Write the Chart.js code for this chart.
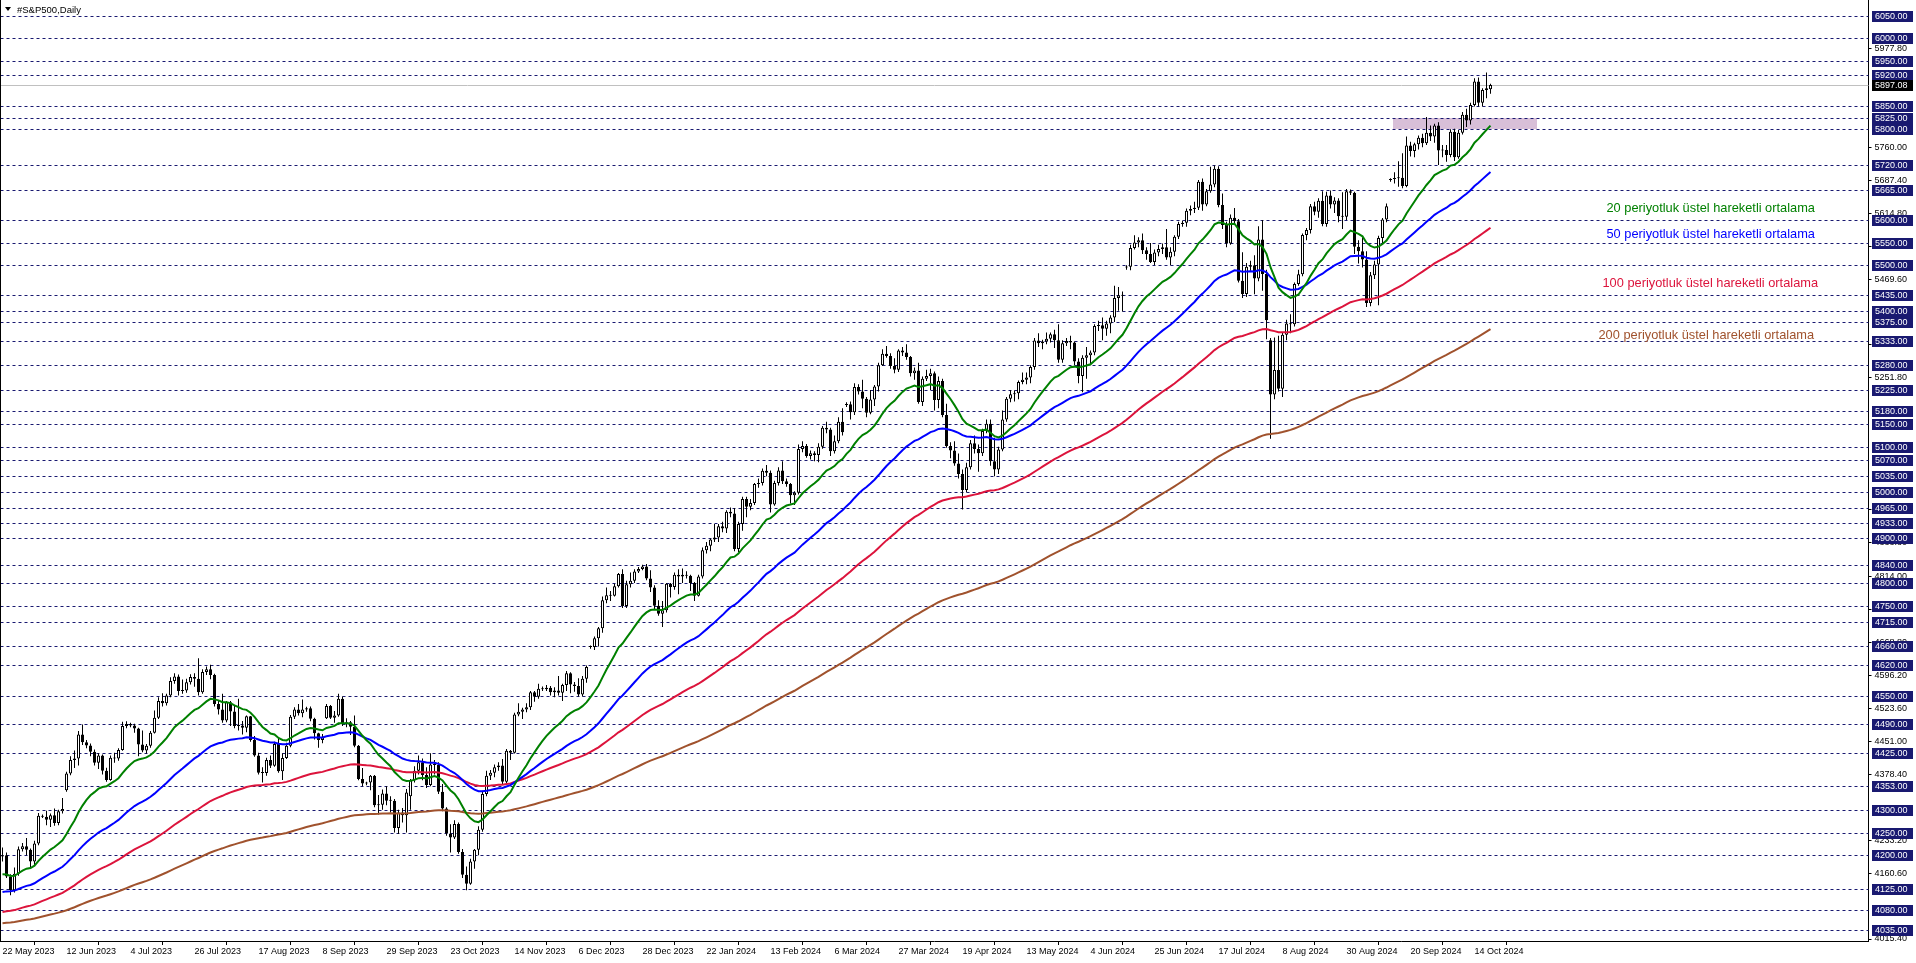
<!DOCTYPE html>
<html lang="tr">
<head>
    <meta charset="UTF-8">
    <title>#S&amp;P500,Daily</title>
    <style>
        html, body {
            margin: 0;
            padding: 0;
            background: #ffffff;
            overflow: hidden;
        }
        #chart {
            display: block;
        }
    </style>
</head>
<body>
    <canvas id="chart" width="1916" height="963"></canvas>

    <script src="https://cdn.jsdelivr.net/npm/chart.js"></script>
    <script>
        // daily bars, one line per 16 bars (one time-axis label each)
        const opens = [
            4197,4200,4153,4123,4159,4213,4220,4212,4186,4226,4287,4285,4278,4288,4271,4297,
            4343,4380,4410,4413,4466,4449,4442,4428,4404,4420,4386,4366,4415,4413,4432,4485,
            4489,4486,4479,4444,4431,4441,4470,4503,4540,4535,4552,4584,4594,4562,4563,4581,
            4593,4589,4559,4604,4610,4597,4533,4521,4497,4537,4517,4485,4486,4481,4506,4454,
            4420,4382,4381,4410,4397,4445,4385,4414,4441,4505,4521,4513,4521,4524,4501,4469,
            4454,4502,4529,4503,4508,4545,4490,4493,4483,4441,4368,4358,4360,4375,4310,4311,
            4336,4320,4320,4260,4294,4288,4330,4365,4386,4405,4377,4355,4400,4399,4340,4303,
            4248,4239,4269,4207,4157,4137,4186,4212,4256,4335,4375,4382,4394,4398,4362,4430,
            4426,4510,4516,4521,4526,4559,4549,4567,4566,4569,4559,4563,4558,4575,4601,4576,
            4573,4554,4589,4659,4659,4678,4700,4762,4773,4772,4793,4820,4749,4797,4805,4825,
            4831,4836,4810,4790,4750,4732,4740,4798,4791,4818,4814,4818,4816,4800,4772,4814,
            4872,4882,4896,4900,4925,4920,4957,4953,4875,4930,4985,4968,4976,5018,5020,5047,
            5043,4973,5020,5048,5024,5018,4993,4999,5095,5102,5080,5086,5082,5100,5142,5138,
            5090,5112,5155,5192,5194,5176,5232,5222,5206,5175,5204,5233,5280,5305,5300,5278,
            5270,5312,5308,5298,5262,5268,5199,5250,5256,5262,5203,5245,5170,5102,5092,5063,
            5040,5005,5055,5108,5095,5086,5135,5151,5068,5050,5094,5160,5206,5216,5218,5243,
            5248,5253,5276,5334,5328,5332,5338,5348,5335,5292,5328,5333,5330,5288,5256,5296,
            5302,5308,5366,5368,5360,5372,5385,5428,5434,5495,5497,5538,5550,5555,5533,5525,
            5507,5528,5536,5540,5517,5530,5563,5591,5594,5620,5624,5627,5684,5634,5663,5678,
            5713,5633,5589,5548,5605,5597,5466,5437,5497,5500,5471,5557,5481,5335,5215,5269,
            5228,5347,5372,5370,5459,5480,5567,5578,5630,5618,5642,5591,5654,5634,5643,5608,
            5607,5663,5660,5541,5531,5513,5417,5478,5502,5560,5601,5688,5690,5692,5693,5675,
            5764,5752,5767,5781,5769,5792,5784,5808,5753,5754,5743,5794,5738,5792,5832,5819,
            5853,5905,5858,5886,5888
        ];
        const highs = [
            4217,4206,4158,4173,4219,4227,4238,4215,4232,4293,4290,4298,4292,4303,4300,4326,
            4384,4418,4431,4474,4488,4454,4446,4433,4425,4422,4393,4420,4426,4436,4494,4495,
            4492,4490,4481,4475,4445,4474,4519,4548,4557,4556,4592,4601,4598,4587,4589,4599,
            4601,4634,4610,4616,4620,4600,4542,4556,4540,4540,4530,4545,4496,4508,4507,4463,
            4426,4394,4415,4420,4450,4460,4425,4448,4509,4526,4533,4543,4527,4528,4503,4470,
            4467,4533,4531,4518,4556,4550,4502,4496,4508,4443,4392,4362,4377,4377,4333,4345,
            4352,4330,4324,4300,4304,4346,4368,4396,4420,4413,4394,4425,4410,4405,4357,4306,
            4268,4277,4272,4214,4175,4192,4214,4264,4342,4386,4388,4400,4405,4412,4434,4432,
            4514,4535,4525,4535,4562,4562,4578,4572,4575,4573,4570,4595,4578,4606,4603,4582,
            4590,4595,4618,4662,4682,4703,4770,4790,4782,4798,4822,4830,4805,4823,4830,4835,
            4840,4842,4828,4795,4762,4760,4800,4800,4823,4830,4832,4826,4818,4802,4818,4878,
            4890,4898,4930,4930,4935,4960,4966,4965,4935,4990,4990,4985,5020,5030,5052,5060,
            5048,5025,5055,5068,5030,5020,5002,5105,5112,5106,5092,5090,5108,5146,5155,5142,
            5125,5165,5185,5198,5200,5240,5238,5248,5210,5225,5236,5285,5315,5322,5306,5295,
            5315,5320,5326,5300,5275,5285,5255,5270,5272,5266,5255,5250,5195,5110,5112,5085,
            5050,5065,5115,5125,5105,5140,5160,5160,5120,5100,5180,5210,5225,5224,5246,5264,
            5264,5280,5340,5350,5336,5352,5352,5358,5370,5335,5340,5345,5332,5295,5302,5320,
            5312,5370,5378,5385,5378,5390,5455,5452,5442,5500,5545,5566,5562,5570,5540,5549,
            5535,5545,5548,5580,5540,5566,5596,5598,5625,5632,5640,5688,5691,5668,5717,5720,
            5718,5658,5596,5612,5626,5602,5529,5505,5510,5522,5586,5600,5490,5340,5341,5345,
            5352,5380,5392,5462,5490,5570,5582,5635,5640,5648,5663,5662,5665,5650,5648,5661,
            5668,5667,5662,5555,5561,5531,5485,5510,5565,5604,5636,5692,5705,5729,5747,5784,
            5772,5770,5786,5790,5827,5808,5812,5815,5765,5765,5800,5801,5798,5838,5845,5858,
            5912,5914,5890,5925,5900
        ];
        const lows = [
            4186,4150,4112,4118,4155,4208,4200,4172,4176,4222,4282,4266,4262,4265,4266,4292,
            4340,4376,4392,4398,4443,4436,4418,4398,4390,4378,4362,4364,4404,4408,4430,4480,
            4482,4470,4418,4427,4424,4437,4468,4500,4528,4530,4548,4578,4552,4556,4558,4576,
            4571,4552,4556,4597,4588,4528,4510,4492,4493,4485,4480,4475,4466,4471,4450,4417,
            4378,4360,4375,4392,4395,4382,4366,4412,4438,4500,4508,4504,4516,4495,4455,4437,
            4447,4500,4500,4492,4505,4485,4482,4465,4438,4365,4352,4354,4343,4306,4290,4300,
            4310,4294,4250,4247,4272,4250,4300,4360,4378,4365,4348,4352,4378,4335,4297,4243,
            4206,4236,4203,4150,4123,4135,4170,4200,4252,4330,4366,4372,4386,4357,4358,4410,
            4424,4506,4500,4515,4520,4538,4545,4562,4562,4552,4548,4552,4540,4562,4557,4560,
            4550,4550,4580,4655,4652,4660,4690,4755,4760,4770,4790,4745,4745,4790,4800,4822,
            4828,4806,4780,4742,4728,4703,4735,4768,4785,4775,4800,4810,4782,4760,4770,4810,
            4865,4870,4890,4890,4912,4910,4945,4870,4868,4915,4945,4960,4972,5010,5015,5035,
            4955,4970,5015,5018,5012,4975,4972,4995,5088,5076,5072,5068,5066,5096,5130,5080,
            5085,5108,5125,5188,5160,5170,5215,5185,5165,5172,5190,5222,5278,5296,5272,5262,
            5265,5300,5292,5255,5248,5195,5190,5245,5225,5180,5185,5165,5098,5075,5058,5030,
            4962,5000,5050,5085,5045,5080,5130,5058,5035,5040,5090,5155,5198,5200,5205,5238,
            5238,5240,5270,5320,5315,5326,5330,5318,5285,5285,5322,5315,5280,5240,5220,5250,
            5280,5302,5355,5335,5345,5350,5375,5400,5398,5490,5489,5535,5540,5525,5512,5505,
            5500,5520,5525,5512,5500,5520,5558,5585,5585,5610,5615,5622,5620,5630,5660,5672,
            5628,5580,5540,5545,5590,5462,5428,5430,5488,5436,5465,5444,5337,5118,5205,5222,
            5210,5335,5350,5365,5455,5476,5555,5570,5610,5605,5586,5585,5625,5615,5595,5580,
            5600,5655,5525,5504,5495,5408,5410,5470,5412,5548,5595,5684,5680,5673,5670,5672,
            5740,5738,5755,5760,5765,5774,5770,5721,5738,5728,5738,5730,5735,5788,5805,5810,
            5850,5850,5850,5868,5878
        ];
        const closes = [
            4200,4153,4123,4159,4213,4220,4212,4186,4226,4287,4285,4278,4288,4271,4297,4302,
            4380,4410,4413,4466,4449,4442,4428,4404,4420,4386,4366,4415,4413,4432,4485,4489,
            4486,4479,4444,4431,4441,4470,4503,4540,4535,4552,4584,4594,4562,4563,4581,4593,
            4589,4559,4604,4610,4597,4533,4521,4497,4537,4517,4485,4486,4481,4506,4454,4420,
            4382,4381,4410,4397,4445,4385,4414,4441,4505,4521,4513,4521,4524,4501,4469,4454,
            4460,4529,4503,4508,4545,4490,4493,4483,4441,4368,4358,4360,4375,4310,4311,4336,
            4320,4320,4260,4294,4288,4338,4365,4386,4405,4377,4355,4400,4399,4340,4303,4248,
            4239,4269,4207,4157,4137,4186,4212,4256,4335,4375,4382,4394,4398,4362,4430,4426,
            4510,4516,4521,4526,4559,4549,4567,4566,4569,4559,4563,4558,4575,4601,4576,4573,
            4554,4589,4615,4659,4678,4700,4762,4773,4772,4793,4820,4749,4797,4805,4825,4831,
            4836,4810,4790,4750,4732,4740,4798,4791,4818,4814,4818,4816,4800,4772,4814,4872,
            4882,4896,4900,4925,4920,4957,4953,4875,4930,4985,4968,4976,5018,5020,5047,5043,
            4973,5020,5048,5024,5018,4993,4999,5095,5102,5080,5086,5082,5100,5142,5138,5090,
            5112,5155,5132,5194,5176,5232,5222,5206,5175,5204,5233,5280,5305,5300,5278,5270,
            5312,5308,5298,5262,5268,5199,5250,5256,5262,5203,5245,5170,5102,5092,5063,5040,
            5005,5055,5108,5095,5086,5135,5151,5068,5050,5094,5160,5206,5216,5218,5243,5248,
            5253,5276,5334,5328,5332,5338,5348,5335,5292,5328,5333,5330,5288,5256,5296,5302,
            5308,5366,5368,5360,5372,5385,5428,5434,5433,5497,5538,5550,5555,5533,5525,5507,
            5528,5536,5540,5517,5530,5563,5591,5594,5620,5624,5627,5684,5634,5663,5678,5713,
            5633,5589,5548,5605,5597,5466,5437,5497,5500,5471,5557,5481,5379,5215,5269,5228,
            5347,5372,5370,5459,5480,5567,5578,5630,5618,5642,5591,5654,5634,5643,5608,5607,
            5663,5660,5541,5531,5513,5417,5478,5502,5560,5601,5630,5690,5692,5693,5675,5764,
            5752,5767,5781,5769,5792,5784,5808,5753,5754,5743,5794,5738,5792,5832,5819,5853,
            5905,5858,5886,5890,5897.08
        ];

        // time axis: a label every 16 bars, starting at the first bar
        const dateLabels = [
            '22 May 2023', '12 Jun 2023', '4 Jul 2023', '26 Jul 2023', '17 Aug 2023', '8 Sep 2023',
            '29 Sep 2023', '23 Oct 2023', '14 Nov 2023', '6 Dec 2023', '28 Dec 2023', '22 Jan 2024',
            '13 Feb 2024', '6 Mar 2024', '27 Mar 2024', '19 Apr 2024', '13 May 2024', '4 Jun 2024',
            '25 Jun 2024', '17 Jul 2024', '8 Aug 2024', '30 Aug 2024', '20 Sep 2024', '14 Oct 2024'
        ];
        const labelStep = 16;

        // price scale ticks (plain labels) and the horizontal levels (boxed labels)
        const priceTicks = [
            5977.8, 5760.0, 5687.4, 5614.8, 5542.2, 5469.6, 5324.4, 5251.8, 4961.4, 4888.8,
            4814.0, 4741.4, 4668.8, 4596.2, 4523.6, 4451.0, 4378.4, 4233.2, 4160.6, 4015.4
        ];
        const levels = [
            6050, 6000, 5950, 5920, 5850, 5825, 5800, 5720, 5665, 5600, 5550, 5500, 5435, 5400,
            5375, 5333, 5280, 5225, 5180, 5150, 5100, 5070, 5035, 5000, 4965, 4933, 4900, 4840,
            4800, 4750, 4715, 4660, 4620, 4550, 4490, 4425, 4353, 4300, 4250, 4200, 4125, 4080, 4035
        ];

        // moving averages: periods and their value at the first bar
        const emaPeriods = [20, 50, 100, 200];
        const emaStart = [4158, 4119, 4075, 4050];
        const emaNotes = [
            '20 periyotluk üstel hareketli ortalama',
            '50 periyotluk üstel hareketli ortalama',
            '100 periyotluk üstel hareketli ortalama',
            '200 periyotluk üstel hareketli ortalama'
        ];
        const noteBars = [401, 401, 400, 399];
        const notePrices = [5626, 5569, 5459, 5346];

        // shaded zone
        const zoneBars = [348, 383];
        const zonePrices = [5800, 5825];

        const emaColors = ['#008000', '#0000ff', '#dc143c', '#a0522d'];
        const slotCount = 467;   // bars + empty room on the right
        const font = 'Liberation Sans';

        function ema(period, seed) {
            const k = 2 / (period + 1);
            const out = [seed];
            for (let i = 1; i < closes.length; i++) {
                out.push(out[i - 1] + k * (closes[i] - out[i - 1]));
            }
            return out;
        }

        const slots = Array.from({ length: slotCount }, (_, i) => i);
        const wicks = highs.map((h, i) => [lows[i], h]);
        const bodies = opens.map((o, i) => [Math.min(o, closes[i]), Math.max(o, closes[i])]);
        const bodyColors = opens.map((o, i) => closes[i] >= o ? '#ffffff' : '#000000');

        const emaSets = emaPeriods.map((p, n) => ({
            type: 'line',
            label: 'EMA ' + p,
            data: ema(p, emaStart[n]),
            borderColor: emaColors[n],
            borderWidth: 2,
            pointRadius: 0,
            tension: 0,
            order: 0
        }));

        const overlay = {
            id: 'overlay',
            beforeDatasetsDraw(chart) {
                const { ctx, chartArea: a, scales: { x, y } } = chart;
                ctx.save();
                // zone
                const zx1 = Math.round(x.getPixelForValue(zoneBars[0]) - 2);
                const zx2 = Math.round(x.getPixelForValue(zoneBars[1]) + 2);
                const zy1 = Math.round(y.getPixelForValue(zonePrices[1]));
                const zy2 = Math.round(y.getPixelForValue(zonePrices[0]));
                ctx.fillStyle = '#d8bfd8';
                ctx.fillRect(zx1, zy1, zx2 - zx1, zy2 - zy1);
                // level lines
                ctx.strokeStyle = '#191970';
                ctx.lineWidth = 1;
                ctx.setLineDash([3, 3]);
                levels.forEach(v => {
                    const py = Math.round(y.getPixelForValue(v)) + 0.5;
                    ctx.beginPath();
                    ctx.moveTo(a.left, py);
                    ctx.lineTo(a.right, py);
                    ctx.stroke();
                });
                // last price line
                ctx.setLineDash([]);
                ctx.strokeStyle = '#c0c0c0';
                const lp = Math.round(y.getPixelForValue(closes[closes.length - 1])) + 0.5;
                ctx.beginPath();
                ctx.moveTo(a.left, lp);
                ctx.lineTo(a.right, lp);
                ctx.stroke();
                ctx.restore();
            },
            afterDraw(chart) {
                const { ctx, chartArea: a, scales: { x, y } } = chart;
                ctx.save();
                ctx.textBaseline = 'middle';
                ctx.textAlign = 'left';
                ctx.font = '9px "' + font + '"';
                const bx = Math.round(a.right) + 3;
                // boxed level labels
                levels.forEach(v => {
                    const py = Math.round(y.getPixelForValue(v));
                    ctx.fillStyle = '#191970';
                    ctx.fillRect(bx, py - 5, 41, 11);
                    ctx.fillStyle = '#ffffff';
                    ctx.fillText(v.toFixed(2), bx + 3, py + 0.5);
                });
                // last price box
                const last = closes[closes.length - 1];
                const lp = Math.round(y.getPixelForValue(last));
                ctx.fillStyle = '#000000';
                ctx.fillRect(bx, lp - 5, 41, 11);
                ctx.fillStyle = '#ffffff';
                ctx.fillText(last.toFixed(2), bx + 3, lp + 0.5);

                // moving average notes
                ctx.font = '12.8px "' + font + '"';
                emaNotes.forEach((t, n) => {
                    ctx.fillStyle = emaColors[n];
                    ctx.fillText(t, x.getPixelForValue(noteBars[n]), y.getPixelForValue(notePrices[n]));
                });

                // title
                ctx.fillStyle = '#000000';
                ctx.beginPath();
                ctx.moveTo(5, 7);
                ctx.lineTo(11, 7);
                ctx.lineTo(8, 11);
                ctx.closePath();
                ctx.fill();
                ctx.font = '9.5px "' + font + '"';
                ctx.fillText('#S&P500,Daily', 17, 10);

                // left frame
                ctx.fillRect(0, 0, 1, Math.round(a.bottom));
                ctx.restore();
            }
        };

        new Chart(document.getElementById('chart'), {
            type: 'bar',
            data: {
                labels: slots,
                datasets: [
                    ...emaSets,
                    {
                        label: 'bodies',
                        data: bodies,
                        backgroundColor: bodyColors,
                        borderColor: '#000000',
                        borderWidth: 1,
                        borderSkipped: false,
                        barThickness: 3,
                        minBarLength: 1,
                        grouped: false,
                        inflateAmount: 0,
                        order: 1
                    },
                    {
                        label: 'wicks',
                        data: wicks,
                        backgroundColor: '#000000',
                        borderWidth: 0,
                        barThickness: 1,
                        grouped: false,
                        inflateAmount: 0,
                        order: 2
                    }
                ]
            },
            options: {
                responsive: false,
                animation: false,
                devicePixelRatio: 1,
                layout: { padding: { left: 0.5, top: 0, right: 0, bottom: 0 } },
                plugins: {
                    legend: { display: false },
                    tooltip: { enabled: false }
                },
                scales: {
                    x: {
                        type: 'category',
                        offset: true,
                        grid: { display: true, drawOnChartArea: false, drawTicks: true, tickLength: 4, color: '#000000' },
                        border: { display: true, color: '#000000' },
                        afterBuildTicks: s => {
                            s.ticks = s.ticks.filter(t => t.value % labelStep === 0 && t.value / labelStep < dateLabels.length);
                        },
                        afterFit: s => {
                            s.height = 22;
                            s.paddingLeft = 0;
                            s.paddingRight = 0;
                        },
                        ticks: {
                            autoSkip: false,
                            maxRotation: 0,
                            minRotation: 0,
                            align: 'start',
                            padding: 1,
                            color: '#000000',
                            font: { family: font, size: 9 },
                            callback: v => dateLabels[v / labelStep]
                        }
                    },
                    y: {
                        position: 'right',
                        bounds: 'data',
                        min: 4011,
                        max: 6084.6,
                        afterBuildTicks: s => {
                            s.ticks = priceTicks.map(v => ({ value: v }));
                        },
                        afterFit: s => {
                            s.width = 47.5;
                            s.paddingTop = 0;
                            s.paddingBottom = 0;
                        },
                        grid: { display: true, drawOnChartArea: false, drawTicks: true, tickLength: 3, color: '#000000' },
                        border: { display: true, color: '#000000' },
                        ticks: {
                            padding: 3,
                            color: '#000000',
                            font: { family: font, size: 9 },
                            callback: v => v.toFixed(2)
                        }
                    }
                }
            },
            plugins: [overlay]
        });
    </script>
</body>
</html>
